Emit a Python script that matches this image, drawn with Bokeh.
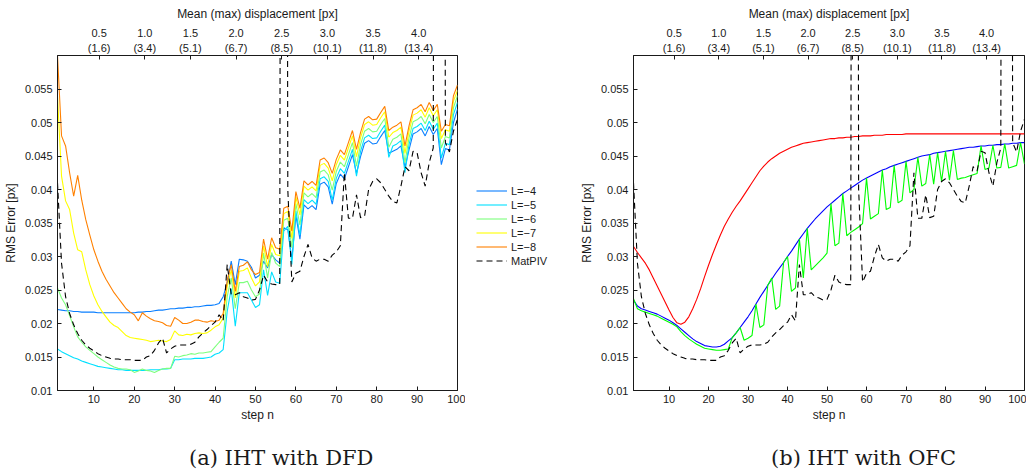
from bokeh.plotting import figure
from bokeh.models import LinearAxis, FixedTicker, Legend, LegendItem, Range1d, Div, Spacer
from bokeh.layouts import row, column
from bokeh.embed import file_html
from bokeh.resources import INLINE

steps = list(range(1, 101))

# ---------- left panel: IHT with DFD ----------
L4 = [0.0221, 0.0220, 0.0219, 0.0219, 0.0218, 0.0218, 0.0217, 0.0217, 0.0217, 0.0217,
      0.0216, 0.0216, 0.0216, 0.0216, 0.0216, 0.0216, 0.0216, 0.0216, 0.0216, 0.0216,
      0.0217, 0.0217, 0.0218, 0.0218, 0.0219, 0.0220, 0.0220, 0.0221, 0.0222, 0.0222,
      0.0223, 0.0223, 0.0224, 0.0224, 0.0225, 0.0225, 0.0226, 0.0227, 0.0227, 0.0228,
      0.0230, 0.0240, 0.0260, 0.0293, 0.0258, 0.0296, 0.0295, 0.0293, 0.0284, 0.0268,
      0.0272, 0.0293, 0.0283, 0.0303, 0.0295, 0.0290, 0.0343, 0.0340, 0.0296, 0.0361,
      0.0326, 0.0377, 0.0371, 0.0376, 0.0370, 0.0408, 0.0411, 0.0404, 0.0378, 0.0409,
      0.0423, 0.0416, 0.0434, 0.0452, 0.0424, 0.0449, 0.0469, 0.0473, 0.0468, 0.0469,
      0.0479, 0.0488, 0.0454, 0.0457, 0.0460, 0.0465, 0.0433, 0.0459, 0.0483, 0.0486,
      0.0491, 0.0480, 0.0494, 0.0482, 0.0491, 0.0437, 0.0461, 0.0459, 0.0500, 0.0520]
L5 = [0.0162, 0.0158, 0.0155, 0.0152, 0.0149, 0.0147, 0.0144, 0.0142, 0.0140, 0.0138,
      0.0136, 0.0135, 0.0134, 0.0133, 0.0132, 0.0131, 0.0131, 0.0130, 0.0130, 0.0130,
      0.0130, 0.0130, 0.0130, 0.0131, 0.0131, 0.0131, 0.0132, 0.0132, 0.0133, 0.0146,
      0.0146, 0.0147, 0.0147, 0.0147, 0.0148, 0.0148, 0.0148, 0.0149, 0.0150, 0.0154,
      0.0156, 0.0161, 0.0218, 0.0252, 0.0196, 0.0246, 0.0246, 0.0246, 0.0235, 0.0224,
      0.0228, 0.0280, 0.0242, 0.0277, 0.0262, 0.0260, 0.0338, 0.0345, 0.0288, 0.0368,
      0.0332, 0.0385, 0.0379, 0.0384, 0.0378, 0.0416, 0.0419, 0.0412, 0.0384, 0.0417,
      0.0431, 0.0424, 0.0442, 0.0460, 0.0420, 0.0457, 0.0477, 0.0481, 0.0476, 0.0477,
      0.0487, 0.0496, 0.0448, 0.0465, 0.0468, 0.0473, 0.0425, 0.0467, 0.0491, 0.0494,
      0.0499, 0.0488, 0.0502, 0.0490, 0.0499, 0.0447, 0.0469, 0.0467, 0.0512, 0.0530]
L6 = [0.0253, 0.0238, 0.0228, 0.0212, 0.0195, 0.0180, 0.0172, 0.0165, 0.0160, 0.0155,
      0.0150, 0.0146, 0.0142, 0.0138, 0.0135, 0.0133, 0.0132, 0.0132, 0.0131, 0.0127,
      0.0129, 0.0132, 0.0130, 0.0129, 0.0127, 0.0130, 0.0132, 0.0133, 0.0133, 0.0151,
      0.0150, 0.0152, 0.0153, 0.0155, 0.0154, 0.0156, 0.0156, 0.0157, 0.0158, 0.0165,
      0.0172, 0.0178, 0.0240, 0.0268, 0.0222, 0.0261, 0.0261, 0.0263, 0.0250, 0.0240,
      0.0244, 0.0305, 0.0268, 0.0306, 0.0290, 0.0285, 0.0354, 0.0357, 0.0313, 0.0379,
      0.0347, 0.0395, 0.0389, 0.0394, 0.0388, 0.0426, 0.0429, 0.0422, 0.0399, 0.0427,
      0.0441, 0.0434, 0.0452, 0.0470, 0.0435, 0.0467, 0.0487, 0.0491, 0.0486, 0.0487,
      0.0497, 0.0506, 0.0463, 0.0475, 0.0478, 0.0483, 0.0440, 0.0477, 0.0501, 0.0504,
      0.0509, 0.0498, 0.0512, 0.0500, 0.0509, 0.0462, 0.0479, 0.0477, 0.0522, 0.0540]
L7 = [0.0540, 0.0420, 0.0383, 0.0370, 0.0335, 0.0310, 0.0307, 0.0280, 0.0258, 0.0241,
      0.0228, 0.0218, 0.0210, 0.0202, 0.0197, 0.0194, 0.0188, 0.0182, 0.0179, 0.0178,
      0.0177, 0.0176, 0.0175, 0.0173, 0.0174, 0.0175, 0.0174, 0.0173, 0.0176, 0.0189,
      0.0183, 0.0182, 0.0184, 0.0183, 0.0185, 0.0186, 0.0185, 0.0186, 0.0190, 0.0195,
      0.0198, 0.0208, 0.0255, 0.0280, 0.0238, 0.0278, 0.0279, 0.0283, 0.0268, 0.0256,
      0.0262, 0.0316, 0.0285, 0.0318, 0.0303, 0.0301, 0.0364, 0.0367, 0.0327, 0.0389,
      0.0362, 0.0405, 0.0399, 0.0404, 0.0398, 0.0436, 0.0439, 0.0432, 0.0413, 0.0437,
      0.0451, 0.0444, 0.0462, 0.0480, 0.0449, 0.0477, 0.0497, 0.0501, 0.0496, 0.0497,
      0.0507, 0.0516, 0.0478, 0.0485, 0.0488, 0.0493, 0.0454, 0.0487, 0.0511, 0.0514,
      0.0519, 0.0508, 0.0522, 0.0510, 0.0519, 0.0476, 0.0489, 0.0487, 0.0532, 0.0548]
L8 = [0.0600, 0.0480, 0.0465, 0.0425, 0.0390, 0.0421, 0.0384, 0.0355, 0.0332, 0.0310,
      0.0293, 0.0278, 0.0266, 0.0256, 0.0246, 0.0238, 0.0230, 0.0222, 0.0217, 0.0213,
      0.0204, 0.0216, 0.0211, 0.0207, 0.0204, 0.0203, 0.0201, 0.0197, 0.0196, 0.0209,
      0.0205, 0.0200, 0.0200, 0.0202, 0.0205, 0.0205, 0.0203, 0.0202, 0.0204, 0.0203,
      0.0205, 0.0215, 0.0265, 0.0288, 0.0248, 0.0285, 0.0287, 0.0292, 0.0280, 0.0273,
      0.0276, 0.0326, 0.0296, 0.0328, 0.0313, 0.0311, 0.0372, 0.0375, 0.0338, 0.0397,
      0.0372, 0.0413, 0.0407, 0.0412, 0.0406, 0.0444, 0.0447, 0.0440, 0.0424, 0.0445,
      0.0459, 0.0452, 0.0470, 0.0488, 0.0460, 0.0485, 0.0505, 0.0509, 0.0504, 0.0505,
      0.0515, 0.0524, 0.0488, 0.0493, 0.0496, 0.0501, 0.0465, 0.0495, 0.0519, 0.0522,
      0.0527, 0.0516, 0.0530, 0.0518, 0.0527, 0.0487, 0.0497, 0.0495, 0.0540, 0.0556]
matpiv = [0.0410, 0.0290, 0.0240, 0.0215, 0.0198, 0.0185, 0.0175, 0.0168, 0.0163, 0.0159,
          0.0155, 0.0152, 0.0150, 0.0148, 0.0147, 0.0147, 0.0146, 0.0146, 0.0146, 0.0145,
          0.0145, 0.0145, 0.0150, 0.0152, 0.0160, 0.0171, 0.0178, 0.0156, 0.0162, 0.0166,
          0.0168, 0.0168, 0.0168, 0.0169, 0.0172, 0.0180, 0.0186, 0.0191, 0.0197, 0.0202,
          0.0213, 0.0204, 0.0288, 0.0243, 0.0243, 0.0246, 0.0240, 0.0238, 0.0235, 0.0236,
          0.0250, 0.0272, 0.0262, 0.0259, 0.0258, 0.0258, 0.4000, 0.0400, 0.0262, 0.0275,
          0.0278, 0.0300, 0.0318, 0.0298, 0.0293, 0.0296, 0.0296, 0.0293, 0.0302, 0.0307,
          0.0316, 0.0425, 0.0357, 0.0357, 0.0392, 0.0358, 0.0360, 0.0400, 0.0412, 0.0416,
          0.0410, 0.0400, 0.0390, 0.0382, 0.0380, 0.0405, 0.0434, 0.0428, 0.0457, 0.0455,
          0.0425, 0.0405, 0.0440, 0.0462, 0.4000, 0.4000, 0.0470, 0.0456, 0.0487, 0.0505]

# ---------- right panel: IHT with OFC ----------
ofc_red = [0.0315, 0.0306, 0.0298, 0.0290, 0.0280, 0.0268, 0.0256, 0.0244, 0.0232, 0.0220,
           0.0209, 0.0201, 0.0199, 0.0202, 0.0210, 0.0222, 0.0236, 0.0252, 0.0270, 0.0287,
           0.0303, 0.0318, 0.0332, 0.0345, 0.0356, 0.0366, 0.0375, 0.0383, 0.0392, 0.0401,
           0.0410, 0.0419, 0.0428, 0.0435, 0.0441, 0.0446, 0.0450, 0.0454, 0.0457, 0.0460,
           0.0463, 0.0465, 0.0467, 0.0469, 0.0470, 0.0471, 0.0472, 0.0473, 0.0474, 0.0475,
           0.0476, 0.0476, 0.0477, 0.0477, 0.0478, 0.0478, 0.0479, 0.0479, 0.0480, 0.0480,
           0.0480, 0.0481, 0.0481, 0.0481, 0.0482, 0.0482, 0.0482, 0.0482, 0.0482, 0.0483,
           0.0483, 0.0483, 0.0483, 0.0483, 0.0483, 0.0483, 0.0483, 0.0483, 0.0483, 0.0483,
           0.0483, 0.0483, 0.0483, 0.0483, 0.0483, 0.0483, 0.0483, 0.0483, 0.0483, 0.0483,
           0.0483, 0.0483, 0.0483, 0.0483, 0.0483, 0.0483, 0.0483, 0.0483, 0.0483, 0.0483]
ofc_blue = [0.0235, 0.0226, 0.0222, 0.0220, 0.0218, 0.0216, 0.0214, 0.0211, 0.0208, 0.0205,
            0.0201, 0.0197, 0.0192, 0.0187, 0.0182, 0.0177, 0.0173, 0.0170, 0.0167, 0.0166,
            0.0165, 0.0165, 0.0166, 0.0169, 0.0174, 0.0179, 0.0186, 0.0194, 0.0202, 0.0210,
            0.0219, 0.0229, 0.0239, 0.0248, 0.0257, 0.0266, 0.0275, 0.0283, 0.0291, 0.0300,
            0.0308, 0.0317, 0.0326, 0.0334, 0.0342, 0.0349, 0.0356, 0.0362, 0.0368, 0.0374,
            0.0379, 0.0384, 0.0389, 0.0394, 0.0398, 0.0402, 0.0406, 0.0410, 0.0414, 0.0417,
            0.0420, 0.0423, 0.0426, 0.0429, 0.0431, 0.0434, 0.0436, 0.0438, 0.0440, 0.0442,
            0.0444, 0.0446, 0.0448, 0.0450, 0.0451, 0.0452, 0.0454, 0.0455, 0.0456, 0.0457,
            0.0458, 0.0459, 0.0460, 0.0461, 0.0462, 0.0463, 0.0463, 0.0464, 0.0465, 0.0465,
            0.0466, 0.0466, 0.0467, 0.0467, 0.0468, 0.0468, 0.0469, 0.0469, 0.0470, 0.0470]
ofc_green = [0.0237, 0.0222, 0.0219, 0.0217, 0.0215, 0.0213, 0.0211, 0.0208, 0.0205, 0.0202,
             0.0199, 0.0195, 0.0188, 0.0182, 0.0177, 0.0173, 0.0169, 0.0166, 0.0163, 0.0162,
             0.0161, 0.0160, 0.0160, 0.0161, 0.0162, 0.0179, 0.0186, 0.0194, 0.0175, 0.0178,
             0.0182, 0.0229, 0.0194, 0.0198, 0.0257, 0.0268, 0.0221, 0.0226, 0.0291, 0.0300,
             0.0248, 0.0253, 0.0326, 0.0268, 0.0342, 0.0280, 0.0286, 0.0292, 0.0298, 0.0305,
             0.0379, 0.0316, 0.0320, 0.0394, 0.0331, 0.0336, 0.0340, 0.0344, 0.0349, 0.0417,
             0.0356, 0.0360, 0.0364, 0.0429, 0.0370, 0.0373, 0.0436, 0.0380, 0.0384, 0.0442,
             0.0395, 0.0400, 0.0448, 0.0405, 0.0409, 0.0452, 0.0408, 0.0455, 0.0412, 0.0457,
             0.0414, 0.0458, 0.0415, 0.0417, 0.0418, 0.0420, 0.0422, 0.0424, 0.0465, 0.0430,
             0.0432, 0.0466, 0.0432, 0.0433, 0.0468, 0.0432, 0.0434, 0.0436, 0.0470, 0.0438]

# ---------- axes labels ----------
y_ticks = [0.01, 0.015, 0.02, 0.025, 0.03, 0.035, 0.04, 0.045, 0.05, 0.055]
y_labels = ["0.01", "0.015", "0.02", "0.025", "0.03", "0.035", "0.04", "0.045", "0.05", "0.055"]
x_ticks = [10, 20, 30, 40, 50, 60, 70, 80, 90, 100]
mean_disp = [0.5, 1.0, 1.5, 2.0, 2.5, 3.0, 3.5, 4.0]
max_disp = ["1.6", "3.4", "5.1", "6.7", "8.5", "10.1", "11.8", "13.4"]
steps_per_px = 22.6  # step index per 1 px of mean displacement

left_names = ["L=\u22124", "L=\u22125", "L=\u22126", "L=\u22127", "L=\u22128", "MatPIV"]
left_colors = ["#0a7fff", "#00e0ff", "#7dff7d", "#ffff00", "#ff8000", "black"]
captions = ["(a) IHT with DFD", "(b) IHT with OFC"]

FONT = "Liberation Sans"
TXT = "#1a1a1a"
TOP = 48
BOT = 34
FH = 335


def style_axis(ax):
    ax.major_tick_in = 4
    ax.major_tick_out = 0
    ax.minor_tick_in = 0
    ax.minor_tick_out = 0
    ax.axis_line_color = TXT
    ax.major_tick_line_color = TXT
    ax.major_label_text_font = FONT
    ax.major_label_text_font_size = "11px"
    ax.major_label_text_color = TXT
    ax.axis_label_text_font = FONT
    ax.axis_label_text_font_size = "12px"
    ax.axis_label_text_font_style = "normal"
    ax.axis_label_text_color = TXT


def make_fig(fw, bl, br):
    p = figure(frame_width=fw, frame_height=FH, x_range=Range1d(1, 100), y_range=Range1d(0.01, 0.06),
               output_backend="svg", toolbar_location=None,
               min_border_left=bl, min_border_right=br, min_border_top=TOP, min_border_bottom=BOT)
    p.grid.visible = False
    p.outline_line_color = TXT
    p.outline_line_alpha = 1.0
    p.xaxis.ticker = FixedTicker(ticks=x_ticks)
    p.xaxis.axis_label = "step n"
    p.xaxis.major_label_standoff = 4
    p.xaxis.axis_label_standoff = 2
    p.yaxis.ticker = FixedTicker(ticks=y_ticks)
    p.yaxis.major_label_overrides = {t: s for t, s in zip(y_ticks, y_labels)}
    p.yaxis.axis_label = "RMS Error [px]"
    p.yaxis.major_label_standoff = 5
    p.yaxis.axis_label_standoff = 4
    top_pos = [round(d * steps_per_px, 2) for d in mean_disp]
    top = LinearAxis(ticker=FixedTicker(ticks=top_pos),
                     major_label_overrides={t: "%.1f\n(%s)" % (d, m) for t, d, m in zip(top_pos, mean_disp, max_disp)},
                     axis_label="Mean (max) displacement [px]")
    top.major_label_standoff = 2
    top.axis_label_standoff = 3
    p.add_layout(top, "above")
    for ax in p.xaxis + p.yaxis:
        style_axis(ax)
    return p


# left plot
p1 = make_fig(400, 54, 8)
for ys, col in zip([L4, L5, L6, L7, L8], left_colors[:5]):
    p1.line(steps, ys, line_color=col, line_width=1.1)
p1.line(steps, matpiv, line_color="black", line_width=1.1, line_dash="6 4")

# legend panel between the two plots
pl = figure(width=90, height=TOP + FH + BOT, x_range=Range1d(0, 1), y_range=Range1d(0, 1),
            output_backend="svg", toolbar_location=None, min_border=0)
pl.axis.visible = False
pl.grid.visible = False
pl.outline_line_color = None
items = []
for name, col in zip(left_names, left_colors):
    dash = "6 4" if name == "MatPIV" else "solid"
    r = pl.line([-5, -4], [-5, -5], line_color=col, line_width=1.1, line_dash=dash)
    items.append(LegendItem(label=name, renderers=[r]))
leg = Legend(items=items, location=(5, 114), glyph_width=31, glyph_height=13, label_height=13,
             spacing=1, padding=6, margin=0, label_standoff=4,
             label_text_font=FONT, label_text_font_size="11px", label_text_color=TXT,
             border_line_alpha=0, background_fill_alpha=0)
pl.add_layout(leg, "center")

# right plot
p2 = make_fig(391, 78, 2)
p2.line(steps, ofc_red, line_color="#ff0000", line_width=1.1)
p2.line(steps, ofc_blue, line_color="#0000ff", line_width=1.1)
p2.line(steps, ofc_green, line_color="#00ff00", line_width=1.1)
p2.line(steps, matpiv, line_color="black", line_width=1.1, line_dash="6 4")

cap_style = {"font-family": "DejaVu Serif", "font-size": "21px", "line-height": "24px", "color": TXT,
             "white-space": "nowrap"}
cap1 = Div(text=captions[0], width=552, height=40,
           styles=dict(cap_style, **{"padding-left": "184px", "padding-top": "17px", "box-sizing": "border-box"}))
cap2 = Div(text=captions[1], width=471, height=40,
           styles=dict(cap_style, **{"padding-left": "204px", "padding-top": "17px", "box-sizing": "border-box"}))

layout = column(Spacer(height=4), row(p1, pl, p2), row(cap1, cap2))
open("out.html", "w").write(file_html(layout, INLINE))
